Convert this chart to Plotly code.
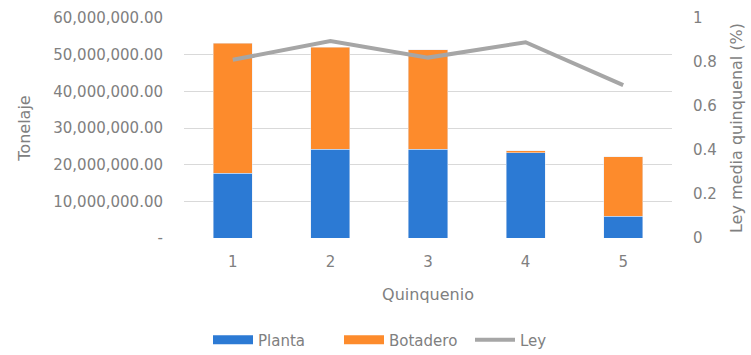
import plotly.graph_objects as go

quinquenios = ["1", "2", "3", "4", "5"]
planta = [17.6e6, 24.2e6, 24.2e6, 23.3e6, 6.0e6]
botadero = [35.5e6, 27.8e6, 27.1e6, 0.5e6, 16.2e6]
ley = [0.81, 0.895, 0.82, 0.89, 0.695]

left_ticks = [0, 10e6, 20e6, 30e6, 40e6, 50e6, 60e6]
left_ticktext = ["-", "10,000,000.00", "20,000,000.00", "30,000,000.00",
                 "40,000,000.00", "50,000,000.00", "60,000,000.00"]
right_ticks = [0, 0.2, 0.4, 0.6, 0.8, 1]
right_ticktext = ["0", "0.2", "0.4", "0.6", "0.8", "1"]

FONT = "DejaVu Sans, sans-serif"
GRAY = "#808080"
BLUE = "#2c7ad4"
ORANGE = "#fd8b2c"
LINE = "#a6a6a6"

fig = go.Figure()
fig.add_trace(go.Bar(x=quinquenios, y=planta, name="Planta", marker_color=BLUE,
                     width=0.4, yaxis="y", showlegend=False))
fig.add_trace(go.Bar(x=quinquenios, y=botadero, name="Botadero", marker_color=ORANGE,
                     width=0.4, yaxis="y", showlegend=False))
fig.add_trace(go.Scatter(x=quinquenios, y=ley, name="Ley", mode="lines",
                         line=dict(color=LINE, width=4), yaxis="y2", showlegend=False))
# legend entries (wide swatches like the original)
for nm, col, w in [("Planta", BLUE, 9), ("Botadero", ORANGE, 9), ("Ley", LINE, 4)]:
    fig.add_trace(go.Scatter(x=[None], y=[None], name=nm, mode="lines",
                             line=dict(color=col, width=w), yaxis="y", showlegend=True))

fig.update_layout(
    width=751, height=355,
    margin=dict(l=184, r=79, t=18, b=117, autoexpand=False),
    barmode="stack",
    plot_bgcolor="white", paper_bgcolor="white",
    font=dict(family=FONT, color=GRAY, size=15),
    showlegend=True,
    legend=dict(orientation="h", x=208 / 751, xanchor="left", xref="container",
                y=15 / 355, yanchor="middle", yref="container",
                font=dict(size=15, color=GRAY), traceorder="normal",
                itemwidth=40, tracegroupgap=0, entrywidth=76),
    xaxis=dict(type="category", showgrid=False, showline=False, ticks="",
               automargin=False,
               tickfont=dict(size=15, color=GRAY), ticklabelstandoff=13,
               title=dict(text="Quinquenio", font=dict(size=16, color=GRAY), standoff=18)),
    yaxis=dict(range=[0, 60e6], tickvals=left_ticks, ticktext=left_ticktext,
               showgrid=True, gridcolor="#d9d9d9", gridwidth=1, zeroline=False,
               automargin=False,
               tickfont=dict(size=15, color=GRAY), ticklabelstandoff=20,
               title=dict(text="Tonelaje", font=dict(size=16, color=GRAY), standoff=18)),
    yaxis2=dict(range=[0, 1], tickvals=right_ticks, ticktext=right_ticktext,
                overlaying="y", side="right", showgrid=False, zeroline=False,
                automargin=False,
                tickfont=dict(size=15, color=GRAY), ticklabelstandoff=20,
                title=dict(text="Ley media quinquenal (%)", font=dict(size=16, color=GRAY),
                           standoff=14)),
)

fig.write_html("out.html")
